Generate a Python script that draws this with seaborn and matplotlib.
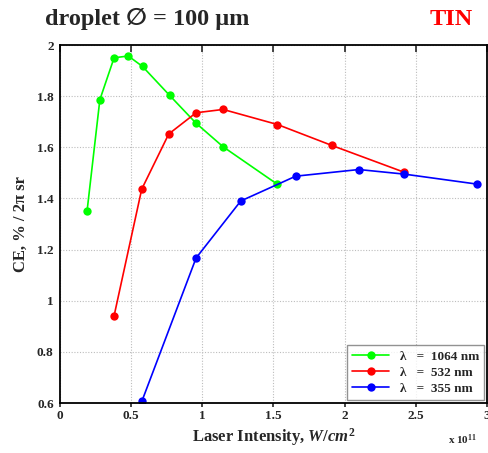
import matplotlib
matplotlib.use("Agg")
import matplotlib.pyplot as plt
from matplotlib.ticker import FuncFormatter
import pandas as pd
import seaborn as sns

# laser intensity in units of 1e11 W/cm^2, CE in % / 2pi sr
x_1064 = [0.19, 0.28, 0.38, 0.48, 0.58, 0.77, 0.956, 1.146, 1.528]
ce_1064 = [1.35, 1.786, 1.95, 1.957, 1.916, 1.803, 1.694, 1.602, 1.455]

x_532 = [0.38, 0.574, 0.764, 0.956, 1.146, 1.528, 1.911, 2.42]
ce_532 = [0.941, 1.436, 1.652, 1.735, 1.748, 1.689, 1.607, 1.502]

x_355 = [0.576, 0.956, 1.27, 1.656, 2.10, 2.42, 2.93]
ce_355 = [0.608, 1.167, 1.39, 1.487, 1.513, 1.495, 1.456]

labels = ["λ   =  1064 nm", "λ   =  532 nm", "λ   =  355 nm"]
colors = ["#00ff00", "#ff0000", "#0000ff"]

df = pd.concat(
    [
        pd.DataFrame({"x": x_1064, "ce": ce_1064, "series": labels[0]}),
        pd.DataFrame({"x": x_532, "ce": ce_532, "series": labels[1]}),
        pd.DataFrame({"x": x_355, "ce": ce_355, "series": labels[2]}),
    ],
    ignore_index=True,
)

sns.set_style("white")
plt.rcParams["font.family"] = ["Liberation Serif", "DejaVu Serif", "DejaVu Sans"]
plt.rcParams["font.weight"] = "bold"
plt.rcParams["mathtext.fontset"] = "custom"
plt.rcParams["mathtext.rm"] = "Liberation Serif:bold"
plt.rcParams["mathtext.it"] = "Liberation Serif:italic:bold"
plt.rcParams["mathtext.bf"] = "Liberation Serif:bold"

fig = plt.figure(figsize=(4.89, 4.53), dpi=100)
ax = fig.add_axes([60 / 489, 1 - 403 / 453, 427 / 489, 358 / 453])

sns.lineplot(
    data=df, x="x", y="ce", hue="series", palette=dict(zip(labels, colors)),
    marker="o", markersize=6, markeredgewidth=0, linewidth=1.2, sort=False, ax=ax,
)

ax.set_xlim(0, 3)
ax.set_ylim(0.6, 2)
ax.set_xticks([0, 0.5, 1, 1.5, 2, 2.5, 3])
ax.set_yticks([0.6, 0.8, 1, 1.2, 1.4, 1.6, 1.8, 2])
fmt = FuncFormatter(lambda v, p: f"{v:g}")
ax.xaxis.set_major_formatter(fmt)
ax.yaxis.set_major_formatter(fmt)
ax.grid(True, color="#bdbdbd", linestyle=(0, (1, 1.5)), linewidth=0.8)
for s in ax.spines.values():
    s.set_color("black")
    s.set_linewidth(1.3)
ax.tick_params(axis="x", which="major", direction="out", length=3, width=1.2,
               labelsize=9.5, pad=2)
ax.tick_params(axis="y", which="major", direction="inout", length=5, width=1.2,
               labelsize=9.5, pad=2)
ax.xaxis.set_ticks_position("both")
for t in ax.xaxis.get_major_ticks():
    t.tick2line.set_marker(3)  # inward tick on top
    t.tick2line.set_markersize(5)

ax.set_xlabel(r"Laser Intensity, $\mathit{W/cm}^{2}$", fontsize=12, fontweight="bold", labelpad=3)
ax.set_ylabel("CE, % / 2π sr", fontsize=12, fontweight="bold", labelpad=6)

leg = ax.legend(loc="lower right", frameon=True, fancybox=False,
                edgecolor="#777777", handlelength=2.8, borderpad=0.4,
                labelspacing=0.3, borderaxespad=0.2, prop={"weight": "bold", "size": 9.5})
leg.get_frame().set_linewidth(1.0)

fig.text(45 / 489, 1 - 25 / 453, "droplet ∅ = 100 μm", fontsize=17.5, fontweight="bold",
         ha="left", va="baseline")
fig.text(473 / 489, 1 - 25 / 453, "TIN", fontsize=17.5, fontweight="bold", color="#ff0000",
         ha="right", va="baseline")
fig.text(448 / 489, 1 - 444 / 453, r"x 10$^{11}$", fontsize=8, fontweight="bold",
         ha="left", va="baseline")

fig.savefig("out.png", dpi=100)
